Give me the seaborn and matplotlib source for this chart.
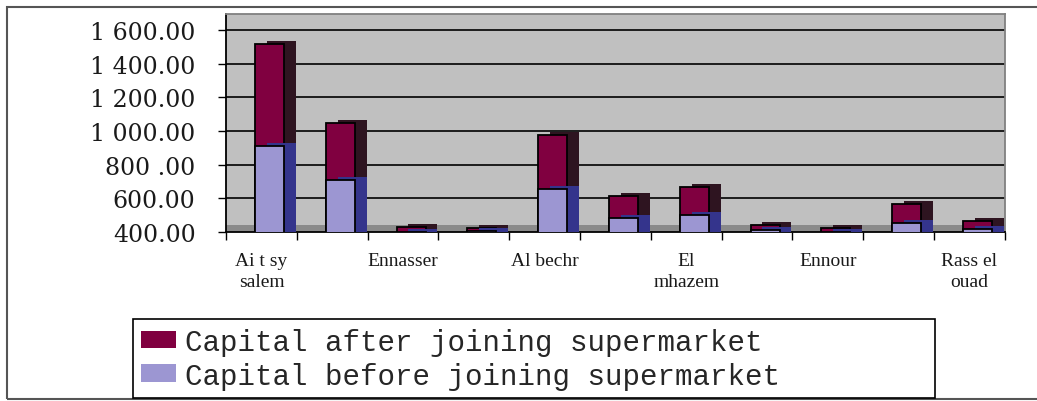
import matplotlib
matplotlib.use('Agg')
import matplotlib.pyplot as plt
import matplotlib.patheffects as pe
from matplotlib.patches import Patch, Rectangle
from matplotlib.ticker import FixedLocator
from matplotlib.transforms import ScaledTranslation
import seaborn as sns
import numpy as np

# Datos
sitios = ["Ai t sy\nsalem", "", "Ennasser", "", "Al bechr", "",
          "El\nmhazem", "", "Ennour", "", "Rass el\nouad"]
capital_antes = [911, 709, 398, 405, 655, 483, 501, 412, 402, 455, 418]
capital_despues = [1518, 1049, 428, 425, 976, 614, 667, 443, 422, 568, 465]
marcas_y = [400, 600, 800, 1000, 1200, 1400, 1600]
etiquetas_y = ["400.00", "600.00", "800 .00", "1 000.00",
               "1 200.00", "1 400.00", "1 600.00"]

color_despues = '#800040'
color_antes = '#9c96d2'
lado_despues = '#2e1420'
lado_antes = '#34348c'

sns.set_style('white')
plt.rcParams['font.family'] = ['Liberation Serif', 'DejaVu Serif']

fig = plt.figure(figsize=(10.37, 4.02), dpi=100)
ax = fig.add_axes([0.218, 0.42, 0.751, 0.543])
ax.set_facecolor('#c0c0c0')

pos = np.arange(len(sitios))

# Barras apiladas: primero el total (después), luego el capital antes
sns.barplot(x=pos, y=capital_despues, color=color_despues, saturation=1,
            width=0.41, edgecolor='black', linewidth=1.3, ax=ax, zorder=3)
sns.barplot(x=pos, y=capital_antes, color=color_antes, saturation=1,
            width=0.41, edgecolor='black', linewidth=1.3, ax=ax, zorder=3)

# Efecto 3D: cara lateral oscura y ligero desplazamiento hacia la derecha
desplazamiento = ScaledTranslation(0.08, 0, fig.dpi_scale_trans)
for contenedor, lado in zip(ax.containers, [lado_despues, lado_antes]):
    for barra in contenedor:
        barra.set_transform(ax.transData + desplazamiento)
        barra.set_path_effects([pe.SimplePatchShadow(offset=(8.5, 2.2), shadow_rgbFace=lado, alpha=1.0),
                                pe.Normal()])

# Suelo gris oscuro del gráfico
ax.axhspan(400, 445, color='#8a8a8a', zorder=1, linewidth=0)

# Eje Y
ax.set_ylim(400, 1695)
ax.set_yticks(marcas_y)
ax.set_yticklabels(etiquetas_y, family='DejaVu Serif', fontsize=17, color='#1a1a1a')
ax.yaxis.grid(True, color='black', linewidth=1.2, zorder=0)
ax.set_axisbelow(True)
ax.tick_params(axis='y', direction='out', length=6, width=1, pad=16, left=True, color='black')

# Eje X: etiquetas centradas, marcas entre categorías
ax.set_xlim(-0.5, len(sitios) - 0.5)
ax.set_xticks(pos)
ax.set_xticklabels(sitios, fontsize=14, color='#1a1a1a', linespacing=1.3)
ax.xaxis.set_minor_locator(FixedLocator(np.arange(-0.5, len(sitios), 1.0)))
ax.tick_params(axis='x', which='major', length=0, pad=14)
ax.tick_params(axis='x', which='minor', direction='out', length=6, width=1, bottom=True, color='black')
ax.set_xlabel('')
ax.set_ylabel('')

for lado in ['left', 'bottom']:
    ax.spines[lado].set_color('black')
    ax.spines[lado].set_linewidth(1.3)
for lado in ['top', 'right']:
    ax.spines[lado].set_color('#808080')
    ax.spines[lado].set_linewidth(1.3)

# Leyenda
manijas = [Patch(facecolor=color_despues, edgecolor='none'),
           Patch(facecolor=color_antes, edgecolor='none')]
leg = fig.legend(manijas, ['Capital after joining supermarket', 'Capital before joining supermarket'],
                 loc='upper left', bbox_to_anchor=(0.128, 0.204, 0.774, 0.0), bbox_transform=fig.transFigure,
                 mode='expand',
                 prop={'family': ['Liberation Mono', 'DejaVu Sans Mono'], 'size': 21},
                 frameon=True, fancybox=False, framealpha=1, edgecolor='black',
                 handlelength=1.2, handleheight=0.55, handletextpad=0.3,
                 labelspacing=0.2, borderpad=0.3, borderaxespad=0)
leg.get_frame().set_linewidth(1.2)

# Marco exterior
fig.patches.append(Rectangle((0.007, 0.005), 1.0, 0.975, transform=fig.transFigure,
                             fill=False, edgecolor='#555555', linewidth=1.5))

fig.savefig('out.png', dpi=100)
